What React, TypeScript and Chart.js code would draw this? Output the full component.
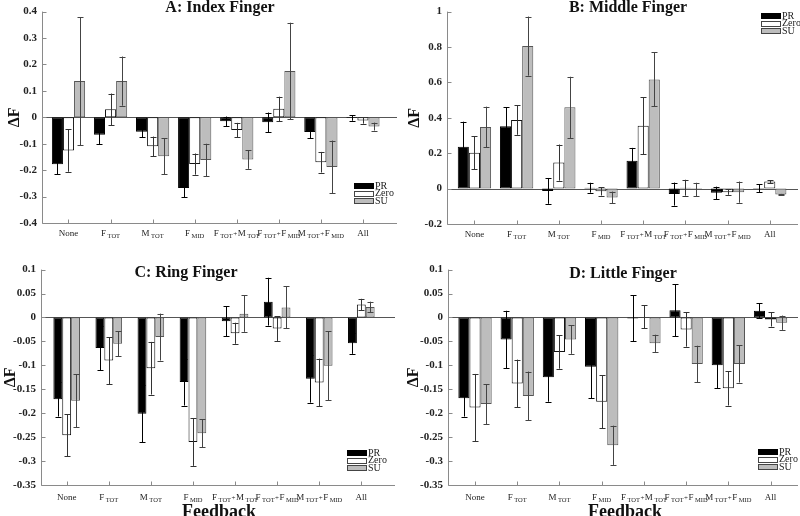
import React, { useEffect, useRef } from "react";
import { Chart, registerables } from "chart.js";
Chart.register(...registerables);

const FONT = "'Liberation Serif', 'Times New Roman', serif";

const categories = ["None", "F_TOT", "M_TOT", "F_MID", "F_TOT+M_TOT", "F_TOT+F_MID", "M_TOT+F_MID", "All"];
const seriesNames = ["PR", "Zero", "SU"];

// A: Index finger
const indexPR = [-0.178, -0.066, -0.055, -0.268, -0.015, -0.019, -0.056, -0.003];
const indexPRErr = [0.037, 0.035, 0.02, 0.035, 0.018, 0.037, 0.024, 0.01];
const indexZero = [-0.126, 0.03, -0.11, -0.177, -0.048, 0.032, -0.17, -0.012];
const indexZeroErr = [0.08, 0.06, 0.037, 0.04, 0.027, 0.046, 0.039, 0.012];
const indexSU = [0.137, 0.137, -0.147, -0.162, -0.16, 0.175, -0.188, -0.035];
const indexSUErr = [0.242, 0.093, 0.068, 0.062, 0.035, 0.183, 0.1, 0.015];

// B: Middle finger
const middlePR = [0.236, 0.352, -0.013, 0.005, 0.157, -0.031, -0.024, 0.003];
const middlePRErr = [0.142, 0.108, 0.073, 0.028, 0.073, 0.065, 0.035, 0.022];
const middleZero = [0.203, 0.387, 0.147, -0.015, 0.355, 0.005, -0.02, 0.04];
const middleZeroErr = [0.093, 0.083, 0.102, 0.024, 0.161, 0.045, 0.015, 0.008];
const middleSU = [0.348, 0.805, 0.459, -0.05, 0.617, -0.005, -0.02, -0.033];
const middleSUErr = [0.115, 0.167, 0.173, 0.033, 0.152, 0.038, 0.06, 0.003];

// C: Ring finger
const ringPR = [-0.171, -0.064, -0.201, -0.135, -0.008, 0.033, -0.128, -0.054];
const ringPRErr = [0.036, 0.046, 0.06, 0.049, 0.031, 0.05, 0.05, 0.022];
const ringZero = [-0.246, -0.09, -0.106, -0.26, -0.033, -0.023, -0.136, 0.027];
const ringZeroErr = [0.044, 0.049, 0.055, 0.05, 0.022, 0.026, 0.05, 0.012];
const ringSU = [-0.174, -0.055, -0.041, -0.242, 0.008, 0.021, -0.101, 0.022];
const ringSUErr = [0.055, 0.026, 0.049, 0.029, 0.038, 0.044, 0.072, 0.011];

// D: Little finger
const littlePR = [-0.169, -0.046, -0.125, -0.103, -0.002, 0.015, -0.1, 0.014];
const littlePRErr = [0.038, 0.06, 0.051, 0.066, 0.048, 0.054, 0.048, 0.016];
const littleZero = [-0.188, -0.138, -0.072, -0.176, 0.001, -0.025, -0.148, -0.004];
const littleZeroErr = [0.07, 0.05, 0.035, 0.055, 0.024, 0.036, 0.036, 0.015];
const littleSU = [-0.181, -0.164, -0.046, -0.267, -0.054, -0.097, -0.097, -0.011];
const littleSUErr = [0.042, 0.051, 0.03, 0.041, 0.018, 0.038, 0.039, 0.015];

// Tick values and labels
const ticksA = [-0.4, -0.3, -0.2, -0.1, 0, 0.1, 0.2, 0.3, 0.4];
const tickLabelsA = ["-0.4", "-0.3", "-0.2", "-0.1", "0", "0.1", "0.2", "0.3", "0.4"];
const ticksB = [-0.2, 0, 0.2, 0.4, 0.6, 0.8, 1];
const tickLabelsB = ["-0.2", "0", "0.2", "0.4", "0.6", "0.8", "1"];
const ticksCD = [-0.35, -0.3, -0.25, -0.2, -0.15, -0.1, -0.05, 0, 0.05, 0.1];
const tickLabelsCD = ["-0.35", "-0.3", "-0.25", "-0.2", "-0.15", "-0.1", "-0.05", "0", "0.05", "0.1"];

const titles = ["A: Index Finger", "B: Middle Finger", "C: Ring Finger", "D: Little Finger"];
const yTitle = "\u0394F";
const xTitle = "Feedback";

const fills = ["#000000", "#ffffff", "#bdbdbd"];
const borders = ["#000000", "#111111", "#555555"];
const errColors = ["#000000", "#333333", "#444444"];

type PanelCfg = {
  left: number; top: number;
  title: string; titleX: number; titleY: number;
  values: number[][]; errors: number[][];
  yMin: number; yMax: number; ticks: number[]; tickLabels: string[];
  xMin: number; xMax: number;
  axisX: number; padTop: number; padRight: number; padBottom: number;
  legendX: number; legendY: number;
  yTitleX: number; labelDy: number;
  showXTitle: boolean; xTitleX: number; xTitleY: number;
};

const panels: PanelCfg[] = [
  {
    left: 0, top: 0, title: titles[0], titleX: 220, titleY: 8,
    values: [indexPR, indexZero, indexSU], errors: [indexPRErr, indexZeroErr, indexSUErr],
    yMin: -0.4, yMax: 0.4, ticks: ticksA, tickLabels: tickLabelsA,
    xMin: 0.37, xMax: 8.81, axisX: 42, padTop: 7, padRight: 3, padBottom: 35,
    legendX: 354, legendY: 183, yTitleX: 15, labelDy: 10,
    showXTitle: false, xTitleX: 0, xTitleY: 0,
  },
  {
    left: 400, top: 0, title: titles[1], titleX: 228, titleY: 8,
    values: [middlePR, middleZero, middleSU], errors: [middlePRErr, middleZeroErr, middleSUErr],
    yMin: -0.2, yMax: 1, ticks: ticksB, tickLabels: tickLabelsB,
    xMin: 0.35, xMax: 8.67, axisX: 47, padTop: 7, padRight: 2, padBottom: 34,
    legendX: 361, legendY: 13, yTitleX: 15, labelDy: 10,
    showXTitle: false, xTitleX: 0, xTitleY: 0,
  },
  {
    left: 0, top: 258, title: titles[2], titleX: 186, titleY: 15,
    values: [ringPR, ringZero, ringSU], errors: [ringPRErr, ringZeroErr, ringSUErr],
    yMin: -0.35, yMax: 0.1, ticks: ticksCD, tickLabels: tickLabelsCD,
    xMin: 0.39, xMax: 8.8, axisX: 41, padTop: 11, padRight: 5, padBottom: 31,
    legendX: 347, legendY: 192, yTitleX: 11, labelDy: 12,
    showXTitle: true, xTitleX: 219, xTitleY: 259,
  },
  {
    left: 400, top: 258, title: titles[3], titleX: 223, titleY: 16,
    values: [littlePR, littleZero, littleSU], errors: [littlePRErr, littleZeroErr, littleSUErr],
    yMin: -0.35, yMax: 0.1, ticks: ticksCD, tickLabels: tickLabelsCD,
    xMin: 0.36, xMax: 8.65, axisX: 48, padTop: 11, padRight: 2, padBottom: 31,
    legendX: 358, legendY: 191, yTitleX: 14, labelDy: 12,
    showXTitle: true, xTitleX: 225, xTitleY: 259,
  },
];

function drawCategoryLabel(ctx: CanvasRenderingContext2D, label: string, cx: number, cy: number) {
  const segs: { t: string; kind: number; gap: number }[] = [];
  label.split("+").forEach((p, i) => {
    if (i > 0) segs.push({ t: "+", kind: 2, gap: 0.5 });
    const [main, sub] = p.split("_");
    segs.push({ t: main, kind: 0, gap: i > 0 ? 0.5 : 0 });
    if (sub) segs.push({ t: sub, kind: 1, gap: 1.5 });
  });
  const fonts = [`9px ${FONT}`, `6.5px ${FONT}`, `7px ${FONT}`];
  let total = 0;
  const widths = segs.map((s) => {
    ctx.font = fonts[s.kind];
    const w = ctx.measureText(s.t).width;
    total += w + s.gap;
    return w;
  });
  let x = cx - total / 2;
  ctx.textAlign = "left";
  ctx.textBaseline = "alphabetic";
  ctx.fillStyle = "#222";
  segs.forEach((s, i) => {
    x += s.gap;
    ctx.font = fonts[s.kind];
    ctx.fillText(s.t, x, s.kind === 1 ? cy + 4.5 : cy + 3);
    x += widths[i];
  });
}

function makePlugin(cfg: PanelCfg) {
  return {
    id: "decor",
    beforeDatasetsDraw(chart: any) {
      const { ctx, chartArea } = chart;
      const y = chart.scales.y;
      ctx.save();
      ctx.lineWidth = 1;
      ctx.strokeStyle = "#555";
      const y0 = Math.round(y.getPixelForValue(0)) + 0.5;
      ctx.beginPath();
      ctx.moveTo(chartArea.left, y0);
      ctx.lineTo(chartArea.right, y0);
      ctx.stroke();
      ctx.restore();
    },
    afterDatasetsDraw(chart: any) {
      const { ctx, chartArea } = chart;
      const xs = chart.scales.x;
      const ys = chart.scales.y;
      ctx.save();
      // error bars
      ctx.lineWidth = 1;
      cfg.values.forEach((vals, s) => {
        const meta = chart.getDatasetMeta(s);
        ctx.strokeStyle = errColors[s];
        vals.forEach((v, i) => {
          const bar = meta.data[i];
          const e = cfg.errors[s][i];
          const bx = Math.round(bar.x) + 0.5;
          const yt = ys.getPixelForValue(v + e);
          const yb = ys.getPixelForValue(v - e);
          ctx.beginPath();
          ctx.moveTo(bx, yt);
          ctx.lineTo(bx, yb);
          ctx.moveTo(bx - 3, Math.round(yt) + 0.5);
          ctx.lineTo(bx + 3, Math.round(yt) + 0.5);
          ctx.moveTo(bx - 3, Math.round(yb) + 0.5);
          ctx.lineTo(bx + 3, Math.round(yb) + 0.5);
          ctx.stroke();
        });
      });
      // axes
      ctx.strokeStyle = "#8a8a8a";
      const lx = Math.round(chartArea.left) + 0.5;
      const by = Math.round(chartArea.bottom) + 0.5;
      ctx.beginPath();
      ctx.moveTo(lx, chartArea.top);
      ctx.lineTo(lx, by);
      ctx.lineTo(chartArea.right, by);
      cfg.ticks.forEach((t) => {
        const ty = Math.round(ys.getPixelForValue(t)) + 0.5;
        ctx.moveTo(lx, ty);
        ctx.lineTo(lx + 4, ty);
      });
      categories.forEach((_, i) => {
        const tx = Math.round(xs.getPixelForValue(i + 1)) + 0.5;
        ctx.moveTo(tx, by);
        ctx.lineTo(tx, by - 4);
      });
      ctx.stroke();
      // category labels
      categories.forEach((c, i) => {
        drawCategoryLabel(ctx, c, xs.getPixelForValue(i + 1), chartArea.bottom + cfg.labelDy);
      });
      // title
      ctx.fillStyle = "#111";
      ctx.textAlign = "center";
      ctx.textBaseline = "middle";
      ctx.font = `bold 16px ${FONT}`;
      ctx.fillText(cfg.title, cfg.titleX, cfg.titleY);
      // y title
      ctx.save();
      ctx.translate(cfg.yTitleX, (chartArea.top + chartArea.bottom) / 2);
      ctx.rotate(-Math.PI / 2);
      ctx.font = `bold 16px ${FONT}`;
      ctx.fillText(yTitle, 0, 0);
      ctx.restore();
      // x title
      if (cfg.showXTitle) {
        ctx.font = `bold 18px ${FONT}`;
        ctx.textBaseline = "alphabetic";
        ctx.fillText(xTitle, cfg.xTitleX, cfg.xTitleY);
      }
      // legend
      ctx.textAlign = "left";
      ctx.textBaseline = "middle";
      ctx.font = `10px ${FONT}`;
      seriesNames.forEach((n, s) => {
        const ry = cfg.legendY + s * 7.5;
        ctx.fillStyle = fills[s];
        ctx.fillRect(cfg.legendX, ry, 20, 5);
        ctx.strokeStyle = s === 0 ? "#000" : "#444";
        ctx.strokeRect(cfg.legendX + 0.5, Math.round(ry) + 0.5, 19, 5);
        ctx.fillStyle = "#222";
        ctx.fillText(n, cfg.legendX + 21, ry + 3);
      });
      ctx.restore();
    },
  };
}

function Panel({ cfg }: { cfg: PanelCfg }) {
  const ref = useRef<HTMLCanvasElement | null>(null);
  useEffect(() => {
    if (!ref.current) return;
    const chart = new Chart(ref.current, {
      type: "bar",
      data: {
        datasets: seriesNames.map((name, s) => ({
          label: name,
          data: cfg.values[s].map((v, i) => ({ x: i + 1, y: v })),
          backgroundColor: fills[s],
          borderColor: borders[s],
          borderWidth: 1,
          borderSkipped: false,
          categoryPercentage: 0.79,
          barPercentage: 1,
        })),
      } as any,
      options: {
        responsive: false,
        animation: false,
        layout: { padding: { left: 0, top: cfg.padTop, right: cfg.padRight, bottom: cfg.padBottom } },
        plugins: { legend: { display: false }, title: { display: false }, tooltip: { enabled: false } },
        scales: {
          x: { type: "linear", min: cfg.xMin, max: cfg.xMax, display: false, offset: false },
          y: {
            min: cfg.yMin,
            max: cfg.yMax,
            grid: { display: false, drawTicks: false },
            border: { display: false },
            afterFit: (s: any) => { s.width = cfg.axisX; },
            afterBuildTicks: (s: any) => { s.ticks = cfg.ticks.map((v) => ({ value: v })); },
            ticks: {
              padding: 5,
              color: "#222",
              autoSkip: false,
              font: { family: FONT, size: 11, weight: "bold" },
              callback: (v: any) => {
                const idx = cfg.ticks.findIndex((t) => Math.abs(t - Number(v)) < 1e-9);
                return idx >= 0 ? cfg.tickLabels[idx] : "";
              },
            },
          },
        },
      } as any,
      plugins: [makePlugin(cfg)],
    });
    return () => chart.destroy();
  }, []);
  return (
    <canvas
      ref={ref}
      width={400}
      height={258}
      style={{ position: "absolute", left: cfg.left, top: cfg.top, width: 400, height: 258, display: "block" }}
    />
  );
}

export default function App() {
  return (
    <div style={{ position: "fixed", left: 0, top: 0, width: 800, height: 516, background: "#fff", overflow: "hidden" }}>
      {panels.map((p, i) => (
        <Panel key={i} cfg={p} />
      ))}
    </div>
  );
}
